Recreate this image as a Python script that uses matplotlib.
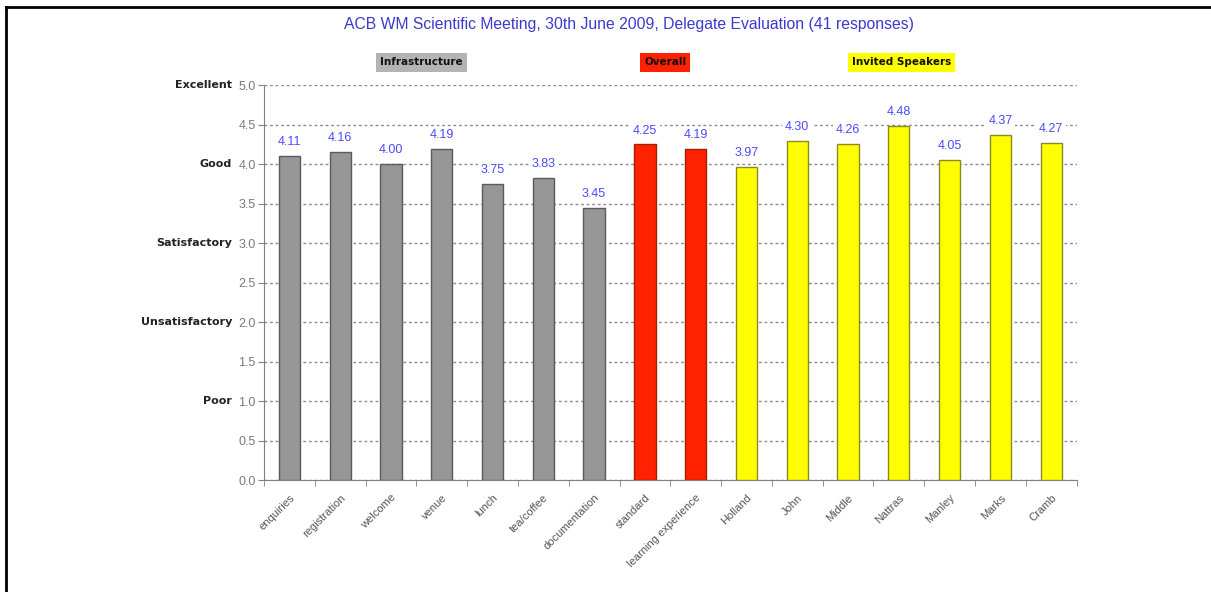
import matplotlib
matplotlib.use("Agg")
from matplotlib import pyplot as plt
from matplotlib.lines import Line2D

categories = ["enquiries", "registration", "welcome", "venue", "lunch", "tea/coffee",
              "documentation", "standard", "learning experience", "Holland", "John",
              "Middle", "Nattras", "Manley", "Marks", "Cramb"]
scores = [4.11, 4.16, 4.00, 4.19, 3.75, 3.83, 3.45, 4.25, 4.19,
          3.97, 4.30, 4.26, 4.48, 4.05, 4.37, 4.27]
groups = ["infra"] * 7 + ["overall"] * 2 + ["speaker"] * 7

group_names = ["Infrastructure", "Overall", "Invited Speakers"]
group_centres = [2.6, 7.4, 12.05]

rating_ticks = [1, 2, 3, 4, 5]
rating_names = ["Poor", "Unsatisfactory", "Satisfactory", "Good", "Excellent"]

fill = {"infra": "#969696", "overall": "#ff2200", "speaker": "#ffff00"}
edge = {"infra": "#5a5a5a", "overall": "#a02000", "speaker": "#8a8a20"}
box = {"Infrastructure": "#b4b4b4", "Overall": "#ff2200", "Invited Speakers": "#ffff00"}

plt.rcParams["font.family"] = ["Liberation Sans", "DejaVu Sans"]

fig = plt.figure(figsize=(12.11, 5.92), dpi=100)
ax = fig.add_axes([0.218, 0.189, 0.671, 0.667])

x = list(range(len(categories)))
ax.bar(x, scores, width=0.42,
       color=[fill[g] for g in groups],
       edgecolor=[edge[g] for g in groups], linewidth=1.0, zorder=3)

ax.set_xlim(-0.5, len(categories) - 0.5)
ax.set_ylim(0, 5)
ax.set_yticks([i * 0.5 for i in range(11)])
ax.set_yticklabels([f"{i * 0.5:.1f}" for i in range(11)], color="#7a7a7a", fontsize=9)
ax.yaxis.grid(True, linestyle=(0, (2, 2)), color="#8c8c8c", linewidth=1.0, zorder=0)
ax.tick_params(axis="y", length=4, color="#808080", pad=2)

ax.set_xticks(x)
ax.set_xticklabels(categories, rotation=45, ha="right", rotation_mode="anchor",
                   fontsize=8, color="#555555")
ax.set_xticks([i - 0.5 for i in range(len(categories) + 1)], minor=True)
ax.tick_params(axis="x", which="major", length=0, pad=9)
ax.tick_params(axis="x", which="minor", length=4, color="#808080")

for s in ["top", "right"]:
    ax.spines[s].set_visible(False)
ax.spines["left"].set_color("#808080")
ax.spines["bottom"].set_color("#808080")

for xi, v in zip(x, scores):
    ax.text(xi, v + 0.1, f"{v:.2f}", ha="center", va="bottom", fontsize=9,
            color="#4a4aff", zorder=4,
            bbox=dict(facecolor="white", edgecolor="none", pad=2))

for val, name in zip(rating_ticks, rating_names):
    ax.annotate(name, xy=(0, val), xycoords=("axes fraction", "data"),
                xytext=(-23, 0), textcoords="offset points",
                ha="right", va="center", fontsize=8, fontweight="bold",
                color="#222222", family="DejaVu Sans")

for name, c in zip(group_names, group_centres):
    ax.text(c, 5.29, name, ha="center", va="center", fontsize=7.5, fontweight="bold",
            family="DejaVu Sans", color="#111111",
            bbox=dict(facecolor=box[name], edgecolor="none", pad=3))

fig.text(0.519, 0.958, "ACB WM Scientific Meeting, 30th June 2009, Delegate Evaluation (41 responses)",
         ha="center", va="center", fontsize=11.3, color="#3a3acc")

fig.add_artist(Line2D([0.005, 0.005], [0.0, 0.988], transform=fig.transFigure,
                      color="black", linewidth=2))
fig.add_artist(Line2D([0.005, 1.0], [0.988, 0.988], transform=fig.transFigure,
                      color="black", linewidth=2))

fig.savefig("out.png", dpi=100)
